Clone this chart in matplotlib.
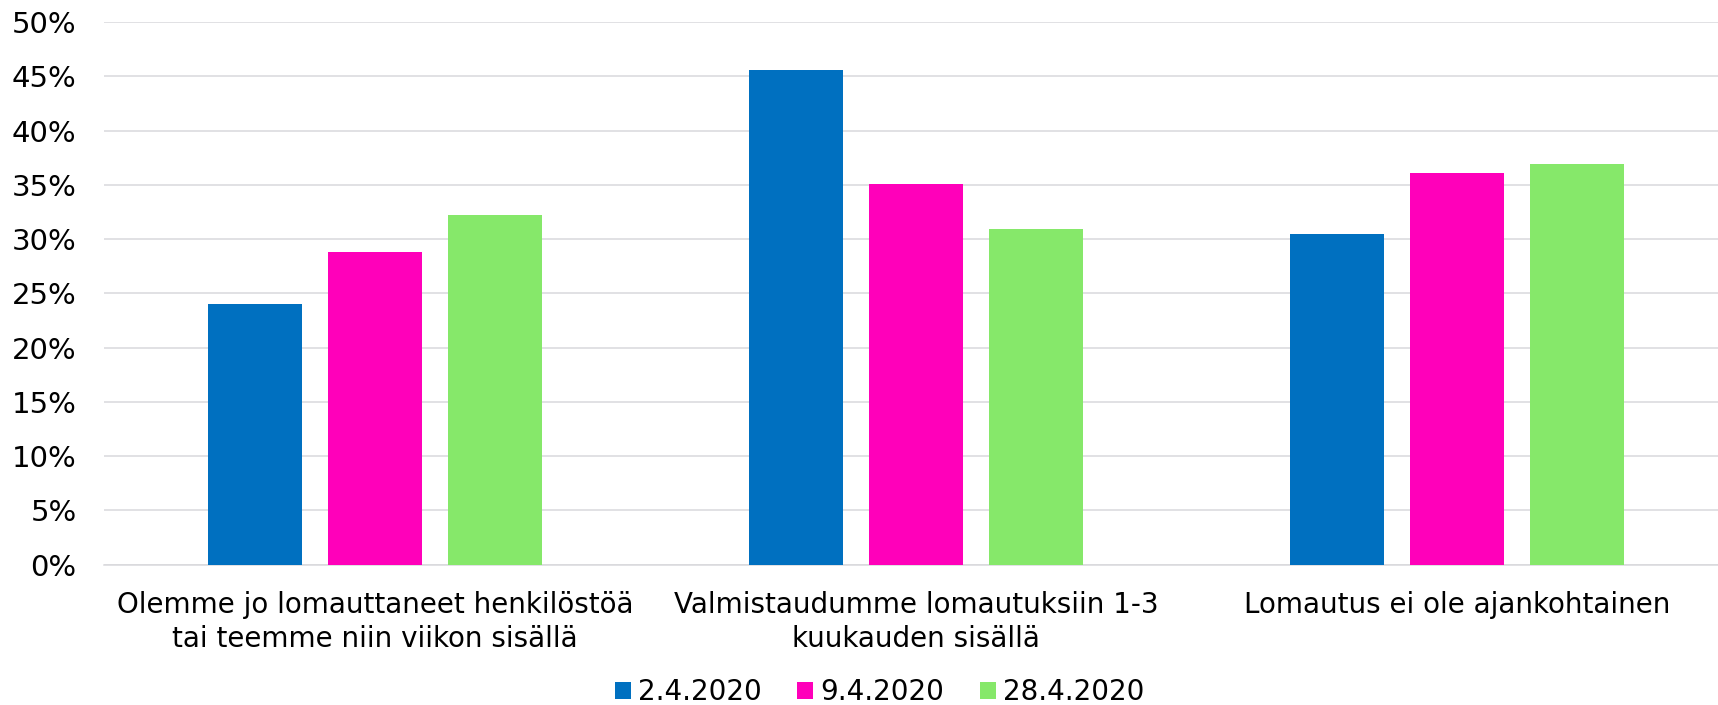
import matplotlib.pyplot as plt
import numpy as np

# dati
categorie = ["Olemme jo lomauttaneet henkilöstöä\ntai teemme niin viikon sisällä",
             "Valmistaudumme lomautuksiin 1-3\nkuukauden sisällä",
             "Lomautus ei ole ajankohtainen"]
date = ["2.4.2020", "9.4.2020", "28.4.2020"]
val_2_4 = [24.0, 45.6, 30.5]
val_9_4 = [28.8, 35.1, 36.1]
val_28_4 = [32.2, 30.9, 36.9]
colori = ["#0070C0", "#FF00BA", "#86E86A"]
yticks = [0, 5, 10, 15, 20, 25, 30, 35, 40, 45, 50]

plt.rcParams["font.family"] = "DejaVu Sans"
plt.rcParams["font.size"] = 20

fig = plt.figure(figsize=(17.18, 7.05), dpi=100)
ax = fig.add_axes([0.0608, 0.199, 0.9447, 0.7698])

x = np.arange(len(categorie))
larghezza = 0.174
passo = 0.222
for i, serie in enumerate([val_2_4, val_9_4, val_28_4]):
    ax.bar(x + (i - 1) * passo, serie, larghezza, color=colori[i], label=date[i], zorder=3)

ax.set_xlim(-0.5, 2.5)
ax.set_ylim(0, 50)
ax.set_yticks(yticks)
ax.set_yticklabels([f"{v}%" for v in yticks], fontsize=21)
ax.set_xticks(x)
ax.set_xticklabels(categorie, multialignment="center", linespacing=1.25)
ax.tick_params(axis="both", length=0, colors="black")
ax.tick_params(axis="y", pad=20)
ax.tick_params(axis="x", pad=19)

ax.grid(axis="y", color="#D9D9DC", linewidth=1.1, zorder=0)
for s in ["top", "right", "left"]:
    ax.spines[s].set_visible(False)
ax.spines["bottom"].set_color("#D9D9DC")
ax.spines["bottom"].set_linewidth(1.1)

fig.legend(loc="center", bbox_to_anchor=(0.512, 0.018), ncol=3, frameon=False,
           handlelength=0.58, handleheight=0.55, handletextpad=0.26,
           columnspacing=1.28, borderpad=0, borderaxespad=0)

plt.savefig("out.png", dpi=100)
